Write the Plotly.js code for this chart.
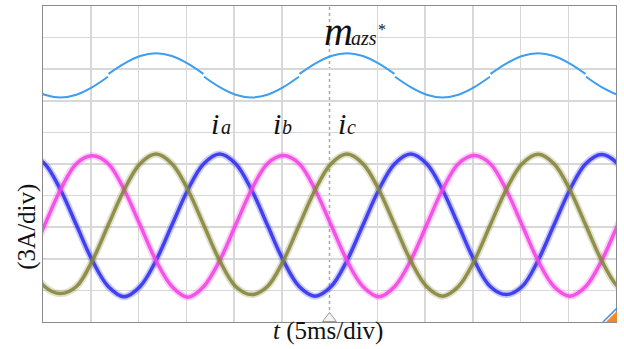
<!DOCTYPE html>
<html>
<head>
<meta charset="utf-8">
<script src="https://cdn.plot.ly/plotly-3.0.1.min.js"></script>
<style>
  html, body { margin: 0; padding: 0; background: #fff; }
  #plot { width: 624px; height: 349px; }
</style>
</head>
<body>
<div id="plot"></div>
<script>
// Sample instants (ms), 30-degree steps of the 50 Hz fundamental
const t = [-1.5, 0.17, 1.83, 3.5, 5.17, 6.83, 8.5, 10.17, 11.83, 13.5, 15.17, 16.83,
           18.5, 20.17, 21.83, 23.5, 25.17, 26.83, 28.5, 30.17, 31.83, 33.5, 35.17, 36.83,
           38.5, 40.17, 41.83, 43.5, 45.17, 46.83, 48.5, 50.17, 51.83, 53.5, 55.17, 56.83,
           58.5, 60.17, 61.83];

// Phase currents (scope units, 3 A/div, trace offset below centre)
const ia = [0.9, 0.03, -2.44, -5.8, -9.17, -11.63, -12.6, -11.63, -9.17, -5.8, -2.44, 0.03,
            0.95, 0.03, -2.44, -5.8, -9.17, -11.63, -12.55, -11.63, -9.17, -5.8, -2.44, 0.03,
            0.95, 0.03, -2.44, -5.8, -9.17, -11.63, -12.4, -11.63, -9.17, -5.8, -2.44, 0.03,
            0.9, 0.03, -2.44];
const ib = [-9.17, -5.8, -2.44, 0.03, 0.78, 0.03, -2.44, -5.8, -9.17, -11.63, -12.65, -11.63,
            -9.17, -5.8, -2.44, 0.03, 0.8, 0.03, -2.44, -5.8, -9.17, -11.63, -12.6, -11.63,
            -9.17, -5.8, -2.44, 0.03, 0.8, 0.03, -2.44, -5.8, -9.17, -11.63, -12.55, -11.63,
            -9.17, -5.8, -2.44];
const ic = [-9.17, -11.63, -12.3, -11.63, -9.17, -5.8, -2.44, 0.03, 0.95, 0.03, -2.44, -5.8,
            -9.17, -11.63, -12.4, -11.63, -9.17, -5.8, -2.44, 0.03, 0.95, 0.03, -2.44, -5.8,
            -9.17, -11.63, -12.55, -11.63, -9.17, -5.8, -2.44, 0.03, 0.93, 0.03, -2.44, -5.8,
            -9.17, -11.63, -12.5];

// Zero-sequence modulation reference, with the small steps at each zero crossing
const mT = [-1.5, 0.17, 1.83, 3.5, 5.17, 6.80, null,
            6.86, 8.5, 10.17, 11.83, 13.5, 15.17, 16.80, null,
            16.86, 18.5, 20.17, 21.83, 23.5, 25.17, 26.80, null,
            26.86, 28.5, 30.17, 31.83, 33.5, 35.17, 36.80, null,
            36.86, 38.5, 40.17, 41.83, 43.5, 45.17, 46.80, null,
            46.86, 48.5, 50.17, 51.83, 53.5, 55.17, 56.80, null,
            56.86, 58.5, 60.17, 61.83];
const mazs = [7.3, 6.58, 6.32, 6.58, 7.3, 8.28, null,
              8.56, 9.54, 10.26, 10.52, 10.26, 9.54, 8.56, null,
              8.28, 7.3, 6.58, 6.32, 6.58, 7.3, 8.28, null,
              8.56, 9.54, 10.26, 10.52, 10.26, 9.54, 8.56, null,
              8.28, 7.3, 6.58, 6.32, 6.58, 7.3, 8.28, null,
              8.56, 9.54, 10.26, 10.52, 10.26, 9.54, 8.56, null,
              8.28, 7.3, 6.58, 6.32];

const SERIF = 'Liberation Serif, Times New Roman, serif';
const phases = [
  { y: ia, color: '#2f2ff2' },
  { y: ib, color: '#f542e6' },
  { y: ic, color: '#85853a' }
];

const traces = [];
phases.forEach(p => {
  // soft ripple envelope under each current
  traces.push({ x: t, y: p.y, type: 'scatter', mode: 'lines', hoverinfo: 'skip',
    line: { color: p.color, width: 7, shape: 'spline' }, opacity: 0.25 });
  traces.push({ x: t, y: p.y, type: 'scatter', mode: 'lines', hoverinfo: 'skip',
    line: { color: p.color, width: 3.5, shape: 'spline' }, opacity: 0.88 });
});
traces.push({ x: mT, y: mazs, type: 'scatter', mode: 'lines', hoverinfo: 'skip',
  connectgaps: false, line: { color: '#3d9ef0', width: 2, shape: 'spline' } });
// trigger position marker
traces.push({ x: [30], y: [-14.67], type: 'scatter', mode: 'markers', hoverinfo: 'skip',
  cliponaxis: false,
  marker: { symbol: 'triangle-up', size: 12, color: '#f4f4f4', line: { color: '#9a9a9a', width: 1 } } });

const gridX = [5, 10, 15, 20, 25, 35, 40, 45, 50, 55];

function label(text, x, y, size, anchor, italic) {
  return { text: italic ? '<i>' + text + '</i>' : text, x: x, y: y, xref: 'x', yref: 'y',
    showarrow: false, xanchor: anchor, yanchor: 'middle', borderpad: 0, borderwidth: 0,
    font: { family: SERIF, size: size, color: '#111' } };
}

const layout = {
  width: 624, height: 349,
  margin: { l: 43, r: 8, t: 6, b: 27, pad: 0 },
  paper_bgcolor: '#ffffff', plot_bgcolor: '#ffffff',
  showlegend: false,
  xaxis: { range: [0, 60], tickvals: gridX, showticklabels: false, ticks: '',
    showgrid: true, gridcolor: '#d8d8d8', gridwidth: 1.5, zeroline: false,
    showline: true, mirror: true, linecolor: '#8a8a8a', linewidth: 1, fixedrange: true },
  yaxis: { range: [-15, 15], tick0: 0, dtick: 3, showticklabels: false, ticks: '',
    showgrid: true, gridcolor: '#d8d8d8', gridwidth: 1.5, zeroline: false,
    showline: true, mirror: true, linecolor: '#8a8a8a', linewidth: 1, fixedrange: true },
  shapes: [
    { type: 'line', xref: 'x', yref: 'paper', x0: 30, x1: 30, y0: 0, y1: 1, layer: 'below',
      line: { color: '#a8a8a8', width: 1.5, dash: 'dot' } },
    { type: 'path', xref: 'paper', yref: 'paper', path: 'M0.9825,0 L1.0017,0 L1.0017,0.035 Z',
      fillcolor: '#f08a2a', line: { width: 0 } },
    { type: 'line', xref: 'paper', yref: 'paper', x0: 0.9773, y0: 0, x1: 1.0017, y1: 0.044,
      line: { color: '#4a90e0', width: 1.5 } }
  ],
  annotations: [
    label('m', 30.9, 12.58, 40, 'center', true),
    label('azs', 32.25, 11.94, 20, 'left', true),
    label('*', 35.45, 12.81, 16, 'center', false),
    label('i', 18.06, 3.81, 30, 'center', true),
    label('a', 18.64, 3.49, 20, 'left', true),
    label('i', 24.5, 3.81, 30, 'center', true),
    label('b', 25.03, 3.49, 20, 'left', true),
    label('i', 31.31, 3.81, 30, 'center', true),
    label('c', 31.83, 3.49, 20, 'left', true),
    { text: '(3A/div)', xref: 'paper', yref: 'paper', x: -0.027, y: 0.30, textangle: -90,
      showarrow: false, xanchor: 'center', yanchor: 'middle',
      font: { family: SERIF, size: 25, color: '#111' } },
    { text: '<i>t</i> (5ms/div)', xref: 'paper', yref: 'paper', x: 0.497, y: -0.027,
      showarrow: false, xanchor: 'center', yanchor: 'middle',
      font: { family: SERIF, size: 25, color: '#111' } }
  ]
};

Plotly.newPlot('plot', traces, layout, { staticPlot: true, displayModeBar: false });
</script>
</body>
</html>
